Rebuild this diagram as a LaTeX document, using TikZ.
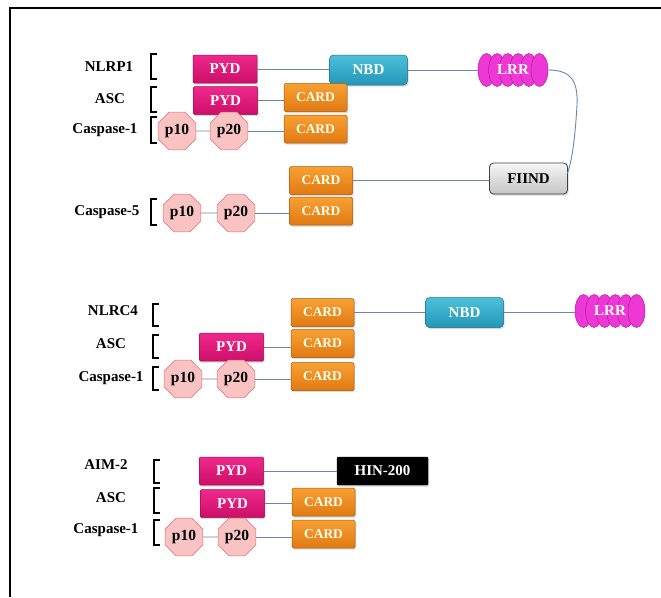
\documentclass[tikz,border=0pt]{standalone}
\usepackage{fontspec}
\setmainfont{Liberation Serif}
\usetikzlibrary{shapes.geometric,shadows,calc}
\definecolor{pydtop}{HTML}{F0288C}
\definecolor{pydbot}{HTML}{CC0F68}
\definecolor{pyddark}{HTML}{9E0C50}
\definecolor{cardtop}{HTML}{F8A033}
\definecolor{cardbot}{HTML}{E07A12}
\definecolor{carddark}{HTML}{A8580A}
\definecolor{nbdtop}{HTML}{4CC0DA}
\definecolor{nbdbot}{HTML}{2596B8}
\definecolor{nbddark}{HTML}{1A6E8A}
\definecolor{lrrc}{HTML}{EE38D6}
\definecolor{lrrd}{HTML}{B8189F}
\definecolor{octfill}{HTML}{F9C3C3}
\definecolor{octdraw}{HTML}{E06C6C}
\definecolor{linkc}{HTML}{6688AD}
\begin{document}
\begin{tikzpicture}[x=1pt,y=-1pt,
  lbl/.style={font=\fontsize{15}{17}\selectfont\bfseries},
  dtext/.style={font=\fontsize{15}{17}\selectfont\bfseries, text=white, inner sep=0pt},
  shad/.style={drop shadow={opacity=0.3,shadow xshift=1.2pt,shadow yshift=-1.6pt}},
  pyd/.style={dtext, shad, minimum width=64pt, minimum height=28pt, rounded corners=1pt,
    top color=pydtop, bottom color=pydbot, draw=pyddark, line width=0.5pt},
  card/.style={dtext, font=\fontsize{13.5}{15}\selectfont\bfseries, text=white!92!yellow,
    shad, minimum width=63pt, minimum height=28pt, rounded corners=1.5pt,
    top color=cardtop, bottom color=cardbot, draw=carddark, line width=0.5pt},
  nbd/.style={dtext, shad, minimum width=78pt, minimum height=30pt, rounded corners=4pt,
    top color=nbdtop, bottom color=nbdbot, draw=nbddark, line width=0.5pt},
  fiind/.style={dtext, text=black, shad, minimum width=78pt, minimum height=31pt, rounded corners=4pt,
    top color=gray!8, bottom color=gray!45, draw=black!75, line width=0.8pt},
  hin/.style={dtext, shad, minimum width=91pt, minimum height=28pt, rounded corners=1pt,
    fill=black, draw=black},
  oct/.style={regular polygon, regular polygon sides=8, minimum size=41pt, inner sep=0pt,
    fill=octfill, draw=octdraw, line width=0.5pt,
    font=\fontsize{15.5}{17}\selectfont\bfseries},
  lrrbox/.style={dtext, minimum width=70pt, minimum height=33pt},
  lrrell/.style={draw=lrrd, fill=lrrc, line width=0.5pt},
  link/.style={draw=linkc, line width=0.9pt},
  brk/.style={line width=1.6pt}
]
\useasboundingbox (0,0) rectangle (661,597);
\draw[line width=2pt] (9.5,597) -- (9.5,8) -- (661,8);

% ---------------- Section 1 ----------------
\node[lbl] (lNLRP1) at (109,67) {NLRP1};
\node[lbl] (lASC1) at (110,99) {ASC};
\node[lbl] (lC1a) at (105,130) {Caspase-1};
\draw[brk] (157,54) -- (151,54) -- (151,79) -- (157,79);
\draw[brk] (157,87) -- (151,87) -- (151,112) -- (157,112);
\draw[brk] (157,117) -- (151,117) -- (151,143) -- (157,143);

\node[pyd] (pyd1) at (225,69) {PYD};
\node[nbd] (nbd1) at (368.5,70) {NBD};
\coordinate (l1c) at (513,70);
\foreach \i in {0,...,5}
  \draw[lrrell] ($(l1c)+(-26.5+10.6*\i,0)$) ellipse (8.5 and 16.5);
\node[lrrbox] (lrr1) at (l1c) {LRR};
\node[pyd] (pyd2) at (225.5,100.5) {PYD};
\node[card] (card2) at (315.5,97.5) {CARD};
\node[card] (card3) at (315.5,129) {CARD};
\node[oct] (p10a) at (177,131) {p10};
\node[oct] (p20a) at (229,131) {p20};

\node[card] (card4) at (321,180.5) {CARD};
\node[fiind] (fiind) at (528.5,178.5) {FIIND};
\node[lbl] (lC5) at (107,212) {Caspase-5};
\draw[brk] (157,199) -- (151,199) -- (151,225) -- (157,225);
\node[card] (card5) at (321,211) {CARD};
\node[oct] (p10b) at (182,213) {p10};
\node[oct] (p20b) at (236,213) {p20};

\path[link] (pyd1.east) -- (pyd1.east -| nbd1.west);
\path[link] (nbd1.east) -- (nbd1.east -| lrr1.west);
\path[link] (lrr1.east) .. controls (572,70) and (578,82) .. (577,105)
   .. controls (575,140) and (572,160) .. ($(fiind.east)+(-0.5,-5)$);
\path[link] (pyd2.east) -- (pyd2.east -| card2.west);
\path[link] (p10a) -- (p20a);
\path[link] (p20a.east) -- (p20a.east -| card3.west);
\path[link] (card4.east) -- (card4.east -| fiind.west);
\path[link] (p10b) -- (p20b);
\path[link] (p20b.east) -- (p20b.east -| card5.west);

% ---------------- Section 2 ----------------
\node[lbl] (lNLRC4) at (113,311) {NLRC4};
\node[lbl] (lASC2) at (111,344) {ASC};
\node[lbl] (lC1b) at (111,378) {Caspase-1};
\draw[brk] (159,304) -- (153,304) -- (153,326) -- (159,326);
\draw[brk] (159,335) -- (153,335) -- (153,358) -- (159,358);
\draw[brk] (159,367) -- (153,367) -- (153,390) -- (159,390);

\node[card] (card6) at (322.5,312.5) {CARD};
\node[nbd] (nbd2) at (464.5,312.5) {NBD};
\coordinate (l2c) at (610,311);
\foreach \i in {0,...,5}
  \draw[lrrell] ($(l2c)+(-26.5+10.6*\i,0)$) ellipse (8.5 and 16.5);
\node[lrrbox] (lrr2) at (l2c) {LRR};
\node[pyd] (pyd3) at (231.5,347) {PYD};
\node[card] (card7) at (322.5,343.5) {CARD};
\node[card] (card8) at (322.5,376.5) {CARD};
\node[oct] (p10c) at (183,379) {p10};
\node[oct] (p20c) at (236,379) {p20};

\path[link] (card6.east) -- (card6.east -| nbd2.west);
\path[link] (nbd2.east) -- (nbd2.east -| lrr2.west);
\path[link] (pyd3.east) -- (pyd3.east -| card7.west);
\path[link] (p10c) -- (p20c);
\path[link] (p20c.east) -- (p20c.east -| card8.west);

% ---------------- Section 3 ----------------
\node[lbl] (lAIM) at (106,465) {AIM-2};
\node[lbl] (lASC3) at (111,498) {ASC};
\node[lbl] (lC1c) at (106,530) {Caspase-1};
\draw[brk] (160,460) -- (154,460) -- (154,483) -- (160,483);
\draw[brk] (160,488) -- (154,488) -- (154,513) -- (160,513);
\draw[brk] (160,520) -- (154,520) -- (154,545) -- (160,545);

\node[pyd] (pyd4) at (231.5,471) {PYD};
\node[hin] (hin) at (382.5,471) {HIN-200};
\node[pyd] (pyd5) at (232.5,503.5) {PYD};
\node[card] (card9) at (323.5,502) {CARD};
\node[card] (card10) at (323.5,534) {CARD};
\node[oct] (p10d) at (184,537) {p10};
\node[oct] (p20d) at (237,537) {p20};

\path[link] (pyd4.east) -- (pyd4.east -| hin.west);
\path[link] (pyd5.east) -- (pyd5.east -| card9.west);
\path[link] (p10d) -- (p20d);
\path[link] (p20d.east) -- (p20d.east -| card10.west);
\end{tikzpicture}
\end{document}
